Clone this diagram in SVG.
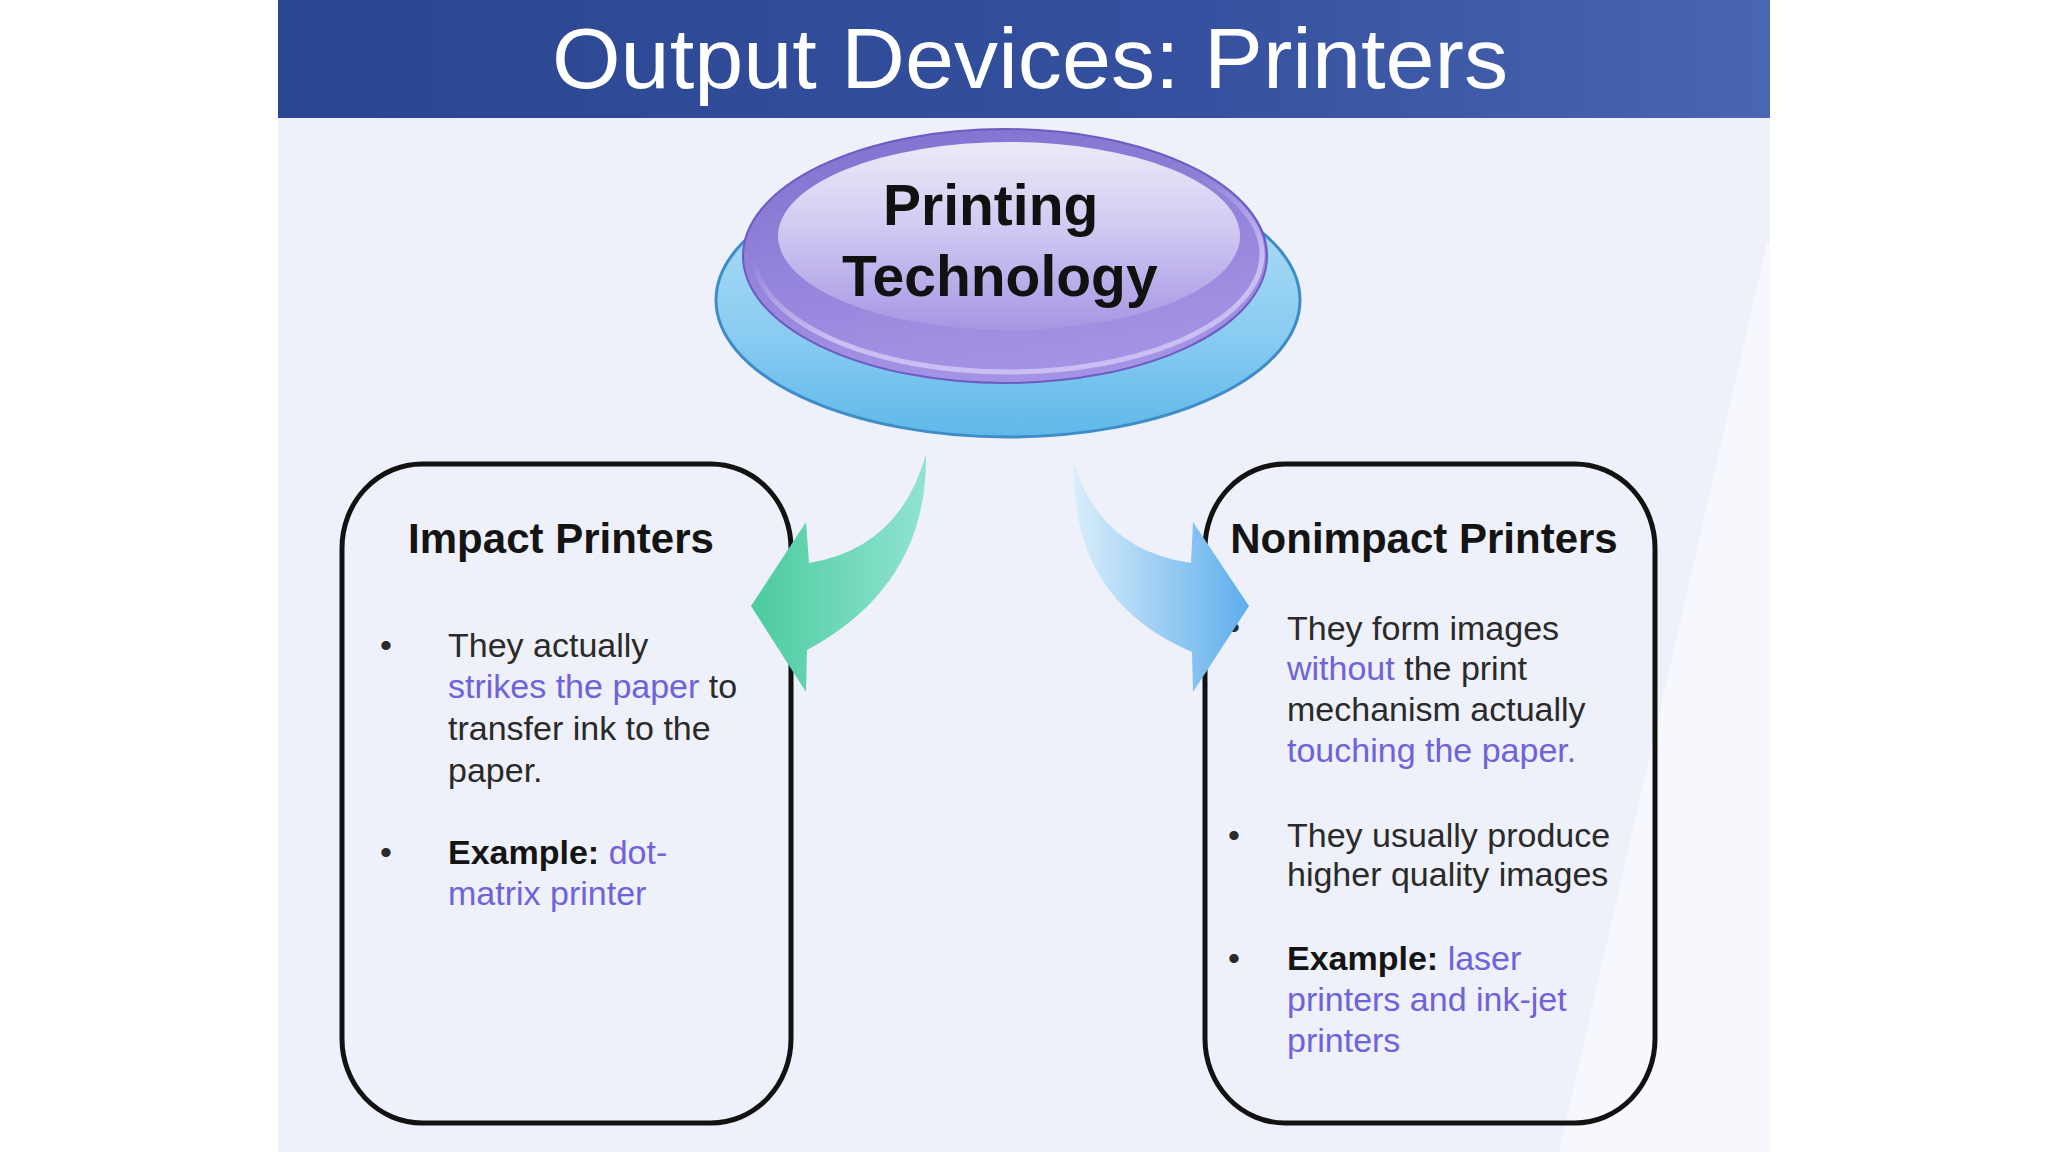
<svg xmlns="http://www.w3.org/2000/svg" width="2048" height="1152" viewBox="0 0 2048 1152">
<defs>
<style>
.t{font-family:"Liberation Sans",Arial,sans-serif;font-size:34px;fill:#2a2a2a}
.p{fill:#7062d9}
.b{font-weight:bold;fill:#141414}
.h{font-family:"Liberation Sans",Arial,sans-serif;font-size:42px;font-weight:bold;fill:#141414}
.box{fill:none;stroke:#121212;stroke-width:5}
.ct{font-family:"Liberation Sans",Arial,sans-serif;font-size:57px;font-weight:bold;fill:#111}
</style>
<linearGradient id="hdr" x1="0" y1="0" x2="1" y2="0">
<stop offset="0" stop-color="#2b4690"/>
<stop offset="0.6" stop-color="#34509e"/>
<stop offset="1" stop-color="#4a66b2"/>
</linearGradient>
<linearGradient id="blue" x1="0" y1="0" x2="0" y2="1">
<stop offset="0" stop-color="#b8e0f6"/>
<stop offset="0.6" stop-color="#8ccdf2"/>
<stop offset="1" stop-color="#5fb8ea"/>
</linearGradient>
<linearGradient id="purp" x1="0" y1="0" x2="0.3" y2="1">
<stop offset="0" stop-color="#8070cf"/>
<stop offset="1" stop-color="#a493e4"/>
</linearGradient>
<linearGradient id="rim" x1="0" y1="0" x2="0.4" y2="1">
<stop offset="0.45" stop-color="#cabef3" stop-opacity="0"/>
<stop offset="0.8" stop-color="#cabef3" stop-opacity="1"/>
</linearGradient>
<linearGradient id="inner" x1="0" y1="0" x2="0" y2="1">
<stop offset="0" stop-color="#eceaf8"/>
<stop offset="0.45" stop-color="#d2caf2"/>
<stop offset="1" stop-color="#a696e3"/>
</linearGradient>
<linearGradient id="green" gradientUnits="userSpaceOnUse" x1="751" y1="0" x2="930" y2="0">
<stop offset="0" stop-color="#4ccb9f"/>
<stop offset="1" stop-color="#92e4d2"/>
</linearGradient>
<linearGradient id="sky" gradientUnits="userSpaceOnUse" x1="1070" y1="0" x2="1249" y2="0">
<stop offset="0" stop-color="#dceffb"/>
<stop offset="1" stop-color="#5eaeec"/>
</linearGradient>
</defs>

<rect x="0" y="0" width="2048" height="1152" fill="#ffffff"/>
<rect x="278" y="0" width="1492" height="1152" fill="#eef0fa"/>
<polygon points="1767,243 1770,243 1770,1152 1559,1152" fill="#ffffff" opacity="0.55"/>

<g id="header">
<rect x="278" y="0" width="1492" height="118" fill="url(#hdr)"/>
<text x="1030" y="88" text-anchor="middle" textLength="956" lengthAdjust="spacingAndGlyphs" font-family="Liberation Sans, Arial, sans-serif" font-size="86" fill="#ffffff">Output Devices: Printers</text>
</g>

<g id="node-printing-technology">
<ellipse cx="1008" cy="300" rx="292" ry="137" fill="url(#blue)" stroke="#3f8cc6" stroke-width="3"/>
<ellipse cx="1005" cy="256" rx="262" ry="127" fill="url(#purp)" stroke="#6c5cc2" stroke-width="2"/>
<ellipse cx="1008" cy="254" rx="254" ry="118" fill="none" stroke="url(#rim)" stroke-width="5"/>
<ellipse cx="1009" cy="236" rx="231" ry="94" fill="url(#inner)"/>
<text class="ct" x="883" y="225">Printing</text>
<text class="ct" x="842" y="296">Technology</text>
</g>

<g id="node-impact-printers">
<rect class="box" x="342" y="464" width="449" height="659" rx="80" ry="84"/>
<text class="h" x="561" y="553" text-anchor="middle">Impact Printers</text>
<text class="t" x="386" y="657" text-anchor="middle">•</text>
<text class="t" x="448" y="657">They actually</text>
<text class="t" x="448" y="698"><tspan class="p">strikes the paper</tspan> to</text>
<text class="t" x="448" y="740">transfer ink to the</text>
<text class="t" x="448" y="782">paper.</text>
<text class="t" x="386" y="864" text-anchor="middle">•</text>
<text class="t" x="448" y="864"><tspan class="b">Example:</tspan><tspan class="p"> dot-</tspan></text>
<text class="t p" x="448" y="905">matrix printer</text>
</g>

<g id="node-nonimpact-printers">
<rect class="box" x="1205" y="464" width="450" height="659" rx="80" ry="84"/>
<text class="h" x="1424" y="553" text-anchor="middle">Nonimpact Printers</text>
<text class="t" x="1234" y="639" text-anchor="middle">•</text>
<text class="t" x="1287" y="640">They form images</text>
<text class="t" x="1287" y="680"><tspan class="p">without</tspan> the print</text>
<text class="t" x="1287" y="721">mechanism actually</text>
<text class="t p" x="1287" y="762">touching the paper.</text>
<text class="t" x="1234" y="847" text-anchor="middle">•</text>
<text class="t" x="1287" y="847">They usually produce</text>
<text class="t" x="1287" y="886">higher quality images</text>
<text class="t" x="1234" y="970" text-anchor="middle">•</text>
<text class="t" x="1287" y="970"><tspan class="b">Example:</tspan><tspan class="p"> laser</tspan></text>
<text class="t p" x="1287" y="1011">printers and ink-jet</text>
<text class="t p" x="1287" y="1052">printers</text>
</g>

<g id="connectors">
<path id="arrow-impact" d="M926,454 Q928,585 807,650 L806,692 L751,606 L806,522 L809,563 Q900,548 926,454 Z" fill="url(#green)"/>
<path id="arrow-nonimpact" d="M1074,463 Q1070,600 1192,652 L1193,692 L1249,606 L1193,522 L1191,563 Q1100,550 1074,463 Z" fill="url(#sky)"/>
</g>
</svg>
